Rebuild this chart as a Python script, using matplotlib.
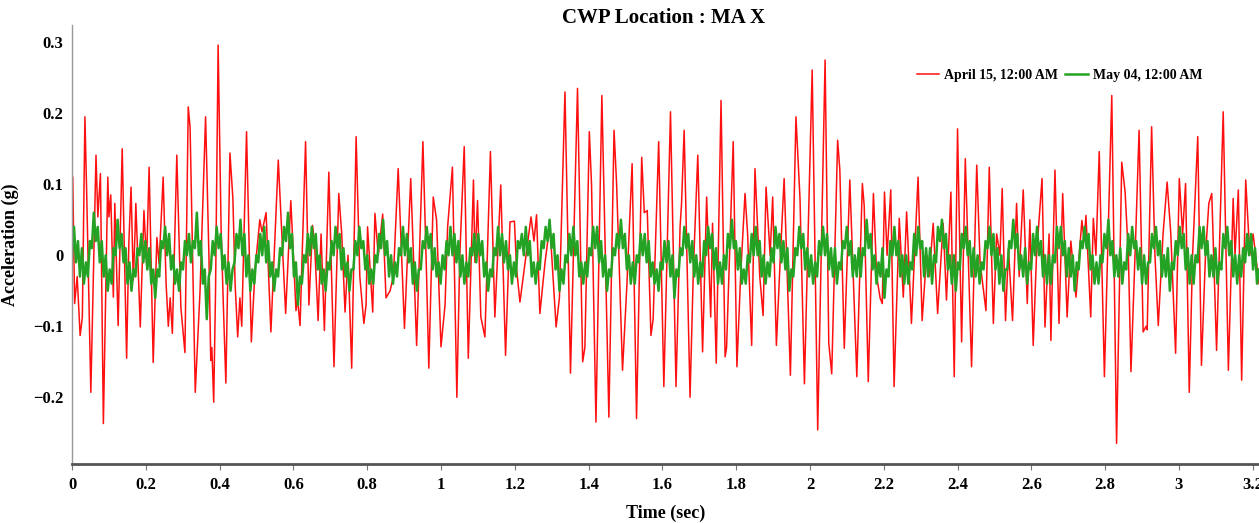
import matplotlib
matplotlib.use("Agg")
import matplotlib.pyplot as plt
import numpy as np

# April 15 record: turning points (time in s, acceleration in g)
apr_t = [0.002, 0.007, 0.014, 0.022, 0.028, 0.035, 0.040, 0.051, 0.065, 0.070,
         0.077, 0.085, 0.097, 0.100, 0.105, 0.112, 0.116, 0.125, 0.136, 0.148,
         0.154, 0.160, 0.166, 0.171, 0.173, 0.185, 0.195, 0.202, 0.209, 0.220,
         0.230, 0.236, 0.247, 0.255, 0.261, 0.266, 0.272, 0.284, 0.295, 0.306,
         0.315, 0.320, 0.334, 0.347, 0.362, 0.371, 0.376, 0.379, 0.384, 0.389,
         0.396, 0.404, 0.410, 0.417, 0.428, 0.436, 0.442, 0.449, 0.455, 0.460,
         0.473, 0.486, 0.496, 0.509, 0.515, 0.526, 0.539, 0.559, 0.579, 0.593,
         0.607, 0.611, 0.618, 0.633, 0.642, 0.652, 0.658, 0.667, 0.675, 0.684,
         0.696, 0.710, 0.723, 0.731, 0.740, 0.748, 0.758, 0.770, 0.780, 0.791,
         0.797, 0.801, 0.815, 0.821, 0.830, 0.842, 0.851, 0.862, 0.871, 0.884,
         0.901, 0.918, 0.934, 0.951, 0.961, 0.967, 0.979, 0.988, 1.000, 1.011,
         1.018, 1.031, 1.043, 1.051, 1.063, 1.074, 1.088, 1.092, 1.099, 1.108,
         1.119, 1.134, 1.146, 1.162, 1.175, 1.187, 1.199, 1.205, 1.214, 1.223,
         1.244, 1.252, 1.259, 1.268, 1.282, 1.295, 1.312, 1.321, 1.336, 1.351,
         1.370, 1.384, 1.390, 1.402, 1.408, 1.420, 1.436, 1.455, 1.469, 1.476,
         1.492, 1.504, 1.518, 1.530, 1.544, 1.551, 1.559, 1.569, 1.575, 1.590,
         1.604, 1.622, 1.637, 1.648, 1.652, 1.659, 1.675, 1.684, 1.696, 1.709,
         1.720, 1.731, 1.736, 1.746, 1.759, 1.770, 1.774, 1.792, 1.802, 1.812,
         1.824, 1.831, 1.842, 1.851, 1.864, 1.873, 1.881, 1.892, 1.899, 1.909,
         1.919, 1.930, 1.947, 1.962, 1.973, 1.985, 2.006, 2.021, 2.041, 2.051,
         2.059, 2.075, 2.081, 2.093, 2.108, 2.127, 2.142, 2.147, 2.158, 2.172,
         2.181, 2.190, 2.196, 2.202, 2.209, 2.219, 2.228, 2.242, 2.253, 2.262,
         2.275, 2.293, 2.304, 2.316, 2.323, 2.334, 2.346, 2.361, 2.370, 2.382,
         2.391, 2.400, 2.411, 2.421, 2.429, 2.438, 2.452, 2.461, 2.468, 2.477,
         2.486, 2.497, 2.506, 2.515, 2.521, 2.530, 2.538, 2.549, 2.560, 2.567,
         2.578, 2.589, 2.596, 2.605, 2.614, 2.629, 2.637, 2.648, 2.653, 2.664,
         2.675, 2.685, 2.697, 2.707, 2.721, 2.737, 2.743, 2.748, 2.761, 2.768,
         2.775, 2.784, 2.798, 2.818, 2.831, 2.845, 2.854, 2.863, 2.870, 2.883,
         2.892, 2.903, 2.911, 2.914, 2.926, 2.935, 2.944, 2.957, 2.968, 2.978,
         2.991, 3.001, 3.010, 3.018, 3.028, 3.037, 3.051, 3.061, 3.072, 3.081,
         3.089, 3.102, 3.120, 3.134, 3.147, 3.152, 3.161, 3.170, 3.181, 3.192,
         3.201, 3.217]
apr_g = [0.110, -0.068, -0.030, -0.113, -0.087, 0.195, 0.082, -0.193, 0.141, 0.054,
         0.115, -0.237, 0.110, 0.054, 0.085, -0.059, 0.073, -0.099, 0.150, -0.145,
         0.017, 0.096, -0.035, 0.035, 0.073, -0.101, 0.063, -0.011, 0.124, -0.151,
         0.025, -0.012, 0.110, -0.040, -0.100, -0.060, -0.110, 0.141, -0.073, -0.137,
         0.209, 0.180, -0.193, -0.050, 0.195, 0.000, -0.148, -0.130, -0.207, -0.050,
         0.296, 0.040, -0.068, -0.180, 0.144, 0.080, -0.040, -0.115, -0.060, -0.100,
         0.174, -0.122, -0.020, 0.050, 0.033, 0.060, -0.108, 0.134, -0.082, 0.077,
         -0.078, -0.060, -0.099, 0.160, -0.070, 0.042, 0.010, -0.092, 0.030, -0.106,
         0.117, -0.157, 0.087, 0.030, -0.080, 0.000, -0.159, 0.167, -0.030, -0.096,
         -0.070, 0.040, -0.080, 0.059, 0.000, 0.058, -0.060, -0.050, -0.030, 0.122,
         -0.103, 0.108, -0.127, 0.160, -0.030, -0.159, 0.082, 0.050, -0.129, -0.070,
         0.040, 0.124, -0.200, 0.000, 0.153, -0.145, 0.106, -0.010, 0.077, -0.087,
         -0.115, 0.146, -0.087, 0.099, -0.141, 0.047, 0.048, -0.020, -0.066, -0.030,
         0.054, 0.020, 0.057, -0.082, -0.010, 0.043, -0.101, -0.060, 0.230, -0.166,
         0.235, -0.150, -0.130, 0.174, 0.100, -0.235, 0.225, -0.228, 0.176, 0.100,
         -0.162, -0.040, 0.129, -0.230, 0.138, 0.060, 0.063, -0.113, -0.090, 0.160,
         -0.185, 0.202, -0.185, 0.040, 0.073, 0.176, -0.200, -0.020, 0.141, -0.136,
         0.082, -0.087, 0.045, -0.152, 0.218, -0.143, -0.130, 0.160, -0.157, -0.030,
         0.087, 0.030, -0.127, 0.122, -0.030, -0.085, 0.096, 0.000, 0.082, -0.127,
         -0.010, 0.108, -0.169, 0.195, 0.080, -0.181, 0.261, -0.246, 0.275, -0.124,
         -0.167, 0.162, 0.120, -0.131, 0.106, -0.171, 0.101, 0.070, -0.178, 0.087,
         -0.030, -0.060, -0.068, 0.089, 0.000, 0.092, -0.185, 0.052, -0.059, 0.061,
         -0.096, 0.110, -0.092, 0.000, -0.030, 0.045, -0.082, 0.045, -0.063, 0.089,
         -0.171, 0.178, -0.122, 0.136, 0.000, -0.157, 0.127, -0.010, -0.040, -0.078,
         0.124, -0.096, 0.030, 0.000, 0.094, -0.092, 0.010, -0.092, 0.073, -0.030,
         0.092, -0.068, 0.050, -0.127, 0.000, 0.108, -0.101, 0.030, -0.120, 0.120,
         -0.096, 0.087, -0.087, 0.020, -0.059, 0.049, 0.020, 0.056, -0.087, 0.052,
         0.000, 0.146, -0.171, 0.225, -0.265, 0.131, 0.090, 0.000, -0.164, 0.030,
         0.176, -0.108, -0.100, -0.105, 0.181, 0.000, -0.099, 0.030, 0.103, 0.030,
         -0.138, 0.108, 0.030, 0.101, -0.193, 0.000, 0.167, -0.155, 0.000, 0.073,
         0.087, -0.134, 0.202, -0.162, 0.080, 0.000, 0.092, -0.176, 0.106, 0.000,
         0.030, -0.040]

# May 04 record: samples at even spacing over the record
may_g = [0.00, 0.04, -0.01, 0.02, -0.03, 0.01, -0.04, -0.01, -0.03, 0.02, 0.01, 0.06,
         0.02, 0.04, -0.01, 0.02, -0.03, 0.00, -0.05, -0.02, -0.04, 0.01, 0.00, 0.05,
         0.01, 0.03, -0.01, 0.01, -0.04, -0.01, -0.05, -0.02, -0.03, 0.01, 0.00, 0.03,
         -0.01, 0.02, -0.02, 0.01, -0.04, -0.02, -0.06, -0.02, -0.03, 0.02, 0.01, 0.04,
         0.00, 0.03, -0.02, 0.00, -0.04, -0.02, -0.05, -0.01, -0.02, 0.02, 0.00, 0.03,
         -0.01, 0.02, 0.01, 0.06, 0.00, 0.02, -0.04, -0.02, -0.09, -0.03, -0.02, 0.02,
         0.00, 0.04, 0.01, 0.03, -0.02, 0.00, -0.04, -0.01, -0.05, -0.02, -0.01, 0.03,
         0.01, 0.05, 0.00, 0.03, -0.03, 0.00, -0.05, -0.02, -0.04, 0.00, -0.01, 0.03,
         0.00, 0.04, -0.01, 0.02, -0.03, -0.01, -0.05, -0.02, -0.03, 0.01, 0.00, 0.04,
         0.02, 0.06, 0.01, 0.03, -0.03, -0.01, -0.07, -0.03, -0.04, 0.00, -0.01, 0.03,
         0.00, 0.04, 0.01, 0.03, -0.02, 0.00, -0.04, -0.02, -0.05, -0.01, -0.02, 0.02,
         0.00, 0.04, 0.01, 0.03, -0.02, 0.01, -0.03, -0.01, -0.05, -0.02, -0.02, 0.02,
         0.00, 0.04, 0.01, 0.02, -0.02, 0.00, -0.04, -0.02, -0.04, 0.00, -0.01, 0.03,
         0.01, 0.05, 0.00, 0.02, -0.03, 0.00, -0.04, -0.01, -0.03, 0.01, 0.00, 0.04,
         0.00, 0.03, -0.01, 0.01, -0.04, -0.01, -0.05, -0.02, -0.02, 0.02, 0.01, 0.04,
         0.01, 0.03, -0.02, 0.01, -0.03, -0.01, -0.04, 0.00, -0.02, 0.02, 0.00, 0.04,
         0.00, 0.03, -0.01, 0.02, -0.03, 0.00, -0.04, -0.01, -0.03, 0.01, 0.00, 0.03,
         -0.01, 0.03, 0.00, 0.02, -0.03, -0.01, -0.05, -0.02, -0.03, 0.01, 0.00, 0.04,
         0.00, 0.03, -0.01, 0.02, -0.02, 0.00, -0.04, -0.01, -0.03, 0.02, 0.01, 0.03,
         0.00, 0.04, 0.00, 0.02, -0.03, -0.01, -0.04, -0.01, -0.02, 0.02, 0.01, 0.04,
         0.02, 0.05, 0.01, 0.03, -0.02, 0.00, -0.05, -0.02, -0.04, 0.00, -0.01, 0.03,
         0.00, 0.04, 0.00, 0.02, -0.03, -0.01, -0.04, -0.01, -0.03, 0.01, 0.00, 0.04,
         0.01, 0.04, -0.01, 0.02, -0.03, 0.00, -0.05, -0.02, -0.03, 0.01, 0.00, 0.03,
         0.01, 0.05, 0.01, 0.03, -0.02, 0.00, -0.04, -0.01, -0.04, 0.00, -0.01, 0.03,
         0.00, 0.03, -0.01, 0.02, -0.03, -0.01, -0.04, -0.02, -0.05, -0.01, -0.02, 0.02,
         -0.01, 0.02, -0.03, 0.00, -0.06, -0.02, -0.03, 0.01, 0.00, 0.04, 0.01, 0.03,
         -0.01, 0.02, -0.03, 0.00, -0.04, -0.01, -0.03, 0.02, 0.00, 0.04, 0.01, 0.03,
         -0.02, 0.01, -0.04, -0.01, -0.04, 0.00, -0.02, 0.03, 0.01, 0.05, 0.01, 0.02,
         -0.02, 0.01, -0.04, -0.02, -0.04, 0.00, -0.01, 0.03, 0.00, 0.04, 0.00, 0.02,
         -0.03, 0.00, -0.04, -0.01, -0.03, 0.01, -0.01, 0.04, 0.01, 0.03, -0.01, 0.02,
         -0.02, 0.01, -0.05, -0.02, -0.03, 0.01, 0.00, 0.04, 0.01, 0.03, -0.02, 0.01,
         -0.03, 0.00, -0.04, -0.01, -0.03, 0.02, 0.00, 0.04, 0.00, 0.03, -0.02, 0.01,
         -0.03, 0.01, -0.04, -0.01, -0.02, 0.02, 0.01, 0.04, 0.00, 0.02, -0.03, 0.00,
         -0.03, 0.01, -0.03, 0.01, 0.00, 0.05, 0.01, 0.03, -0.02, 0.00, -0.04, -0.01,
         -0.03, 0.01, -0.06, -0.02, -0.03, 0.02, 0.00, 0.04, 0.00, 0.02, -0.03, 0.00,
         -0.04, 0.00, -0.04, -0.01, -0.02, 0.03, 0.00, 0.04, 0.01, 0.02, -0.03, 0.01,
         -0.03, 0.01, -0.04, 0.00, -0.01, 0.04, 0.02, 0.05, 0.01, 0.03, -0.02, 0.00,
         -0.04, 0.00, -0.05, -0.01, -0.02, 0.03, 0.01, 0.04, 0.00, 0.02, -0.03, 0.01,
         -0.03, 0.00, -0.04, -0.01, -0.02, 0.02, 0.01, 0.04, 0.00, 0.03, -0.02, 0.01,
         -0.04, 0.00, -0.05, -0.02, -0.02, 0.02, 0.01, 0.05, 0.01, 0.03, -0.02, 0.00,
         -0.03, 0.01, -0.04, -0.01, -0.02, 0.03, 0.00, 0.04, 0.00, 0.02, -0.03, 0.00,
         -0.04, 0.00, -0.04, 0.00, -0.01, 0.04, 0.01, 0.04, 0.00, 0.02, -0.03, 0.01,
         -0.03, 0.00, -0.05, -0.01, -0.02, 0.02, 0.01, 0.04, 0.01, 0.03, -0.02, 0.00,
         -0.04, -0.01, -0.04, 0.00, -0.01, 0.03, 0.01, 0.05, 0.00, 0.02, -0.03, 0.00,
         -0.03, 0.01, -0.04, -0.01, -0.02, 0.03, 0.00, 0.04, 0.01, 0.02, -0.02, 0.01,
         -0.04, 0.00, -0.04, -0.01, -0.01, 0.03, 0.01, 0.04, 0.00, 0.02, -0.03, 0.00,
         -0.03, 0.01, -0.05, -0.01, -0.02, 0.02, 0.00, 0.04, 0.01, 0.03, -0.02, 0.01,
         -0.04, 0.00, -0.04, 0.00, -0.01, 0.04, 0.01, 0.04, 0.00, 0.02, -0.03, 0.00,
         -0.03, 0.01, -0.04, -0.01, -0.02, 0.03, 0.01, 0.04, 0.00, 0.02, -0.03, 0.00,
         -0.04, 0.00, -0.03, 0.01, -0.01, 0.03, 0.00, 0.03, -0.02, 0.01, -0.04, -0.02]
may_t = np.linspace(0, 3.217, len(may_g))

x_ticks = [0, 0.2, 0.4, 0.6, 0.8, 1, 1.2, 1.4, 1.6, 1.8, 2, 2.2, 2.4, 2.6, 2.8, 3, 3.2]
y_ticks = [-0.2, -0.1, 0, 0.1, 0.2, 0.3]

font = dict(family="Liberation Serif", weight="bold")

fig = plt.figure(figsize=(12.59, 5.23), dpi=100)
ax = fig.add_axes([0.0572, 0.1128, 0.9428, 0.839])

ax.plot(apr_t, apr_g, color="#ff1010", lw=1.1, label="April 15, 12:00 AM")
ax.plot(may_t, may_g, color="#24a224", lw=1.8, label="May 04, 12:00 AM")

ax.set_xlim(0, 3.217)
ax.set_ylim(-0.294, 0.324)
ax.set_xticks(x_ticks)
ax.set_xticklabels([f"{v:g}" for v in x_ticks], **font, fontsize=12)
ax.set_yticks(y_ticks)
ax.set_yticklabels([f"{v:g}".replace("-", "\u2212") for v in y_ticks], **font, fontsize=12)

for s in ["top", "right"]:
    ax.spines[s].set_visible(False)
ax.spines["left"].set_color("#999999")
ax.spines["left"].set_linewidth(1)
ax.spines["bottom"].set_color("#555555")
ax.spines["bottom"].set_linewidth(2)
ax.tick_params(axis="x", length=4, color="#777777", pad=5)
ax.tick_params(axis="y", length=0, pad=6)

fig.text(0.527, 0.965, "CWP Location : MA X", ha="center", va="center", fontsize=15, **font)
ax.set_xlabel("Time (sec)", fontsize=13, labelpad=9, **font)
ax.set_ylabel("Acceleration (g)", fontsize=13, **font)
ax.yaxis.set_label_coords(-0.045, 0.5)

leg = ax.legend(loc="center right", bbox_to_anchor=(0.963, 0.886), ncol=2, frameon=False,
                handlelength=1.6, handletextpad=0.4, columnspacing=0.5,
                prop=dict(family="Liberation Serif", weight="bold", size=10))

fig.savefig("out.png", dpi=100)
